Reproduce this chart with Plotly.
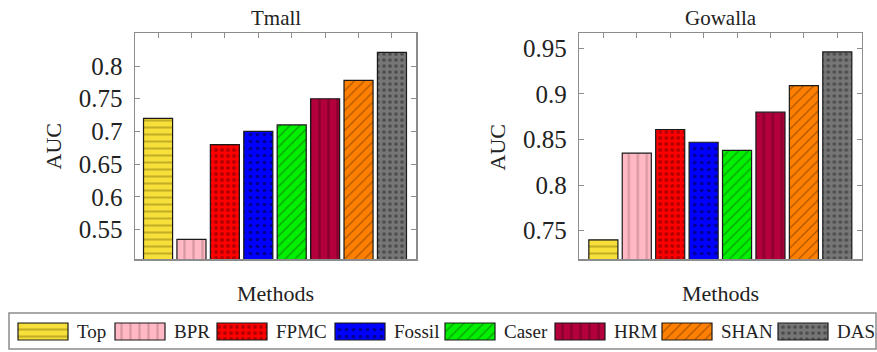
import plotly.graph_objects as go

# ---------------- data ----------------
methods = ["Top", "BPR", "FPMC", "Fossil", "Caser", "HRM", "SHAN", "DAS"]
tmall_auc = [0.720, 0.535, 0.680, 0.700, 0.710, 0.750, 0.778, 0.821]
gowalla_auc = [0.740, 0.835, 0.861, 0.847, 0.838, 0.880, 0.909, 0.946]
tmall_ticks = [0.55, 0.6, 0.65, 0.7, 0.75, 0.8]
tmall_ticklabels = ["0.55", "0.6", "0.65", "0.7", "0.75", "0.8"]
gowalla_ticks = [0.75, 0.8, 0.85, 0.9, 0.95]
gowalla_ticklabels = ["0.75", "0.8", "0.85", "0.9", "0.95"]

# ---------------- styles ----------------
bg_colors = ["#f7e03a", "#ffb8c4", "#ff0000", "#0000ff", "#00f000", "#b3003c", "#ff8000", "#767676"]
fg_colors = ["#8f7c10", "#b07880", "#6a0000", "#000028", "#1a4a1a", "#66001f", "#5a2c00", "#262626"]
shapes_ = ["-", "|", ".", ".", "/", "|", "/", "."]
psizes = [7, 9, 6, 7, 7, 9, 7, 6]
psolid = [0.3, 0.25, 0.35, 0.22, 0.18, 0.3, 0.18, 0.3]

FONT = "Liberation Serif, Times New Roman, serif"
W, H = 877, 352

def pattern(i):
    return dict(shape=shapes_[i], fgcolor=fg_colors[i], bgcolor=bg_colors[i],
                size=psizes[i], solidity=psolid[i], fillmode="overlay")

fig = go.Figure()
xs = list(range(len(methods)))
for i, m in enumerate(methods):
    fig.add_trace(go.Bar(x=[xs[i]], y=[tmall_auc[i]], width=0.87, name=m,
                         marker=dict(color=bg_colors[i], pattern=pattern(i),
                                     line=dict(color="#1a1a1a", width=1.2)),
                         xaxis="x", yaxis="y", showlegend=False))
    fig.add_trace(go.Bar(x=[xs[i]], y=[gowalla_auc[i]], width=0.87, name=m,
                         marker=dict(color=bg_colors[i], pattern=pattern(i),
                                     line=dict(color="#1a1a1a", width=1.2)),
                         xaxis="x2", yaxis="y2", showlegend=False))

# custom legend (swatches drawn as bars on a pixel-scaled helper axis)
legend_left = [18, 115, 217, 335, 445, 555, 662, 778]
sw_w, sw_top, sw_h = 50, 323, 17
for i, m in enumerate(methods):
    fig.add_trace(go.Bar(x=[legend_left[i] + sw_w / 2], y=[sw_h], base=[sw_top], width=sw_w,
                         marker=dict(color=bg_colors[i], pattern=pattern(i),
                                     line=dict(color="#1a1a1a", width=1.2)),
                         xaxis="x3", yaxis="y3", showlegend=False, hoverinfo="skip"))

frame = "#8c8c8c"
txt = "#222222"
common_x = dict(showgrid=False, zeroline=False, showline=True, linecolor=frame, linewidth=1.5,
                mirror=True, side="top", ticks="inside", ticklen=5, tickcolor=frame,
                tickvals=xs, showticklabels=False, fixedrange=True)
common_y = dict(showgrid=False, zeroline=False, showline=True, linecolor=frame, linewidth=1.5,
                mirror="ticks", ticks="inside", ticklen=5, tickcolor=frame,
                tickfont=dict(family=FONT, size=25, color=txt), ticklabelstandoff=6)

fig.update_layout(
    width=W, height=H, margin=dict(l=0, r=0, t=0, b=0),
    paper_bgcolor="white", plot_bgcolor="rgba(0,0,0,0)",
    barmode="overlay", bargap=0,
    font=dict(family=FONT),
    xaxis=dict(domain=[135 / W, 416 / W], range=[-0.69, 7.72], anchor="y", **common_x),
    yaxis=dict(domain=[1 - 259 / H, 1 - 33 / H], range=[0.505, 0.8505], anchor="x",
               tickvals=tmall_ticks, ticktext=tmall_ticklabels, **common_y),
    xaxis2=dict(domain=[579.3 / W, 861.7 / W], range=[-0.72, 7.73], anchor="y2", **common_x),
    yaxis2=dict(domain=[1 - 259 / H, 1 - 33 / H], range=[0.719, 0.9668], anchor="x2",
                tickvals=gowalla_ticks, ticktext=gowalla_ticklabels, **common_y),
    xaxis3=dict(domain=[0, 1], range=[0, W], visible=False, fixedrange=True, anchor="y3"),
    yaxis3=dict(domain=[0, 40 / H], range=[H, H - 40], visible=False, fixedrange=True, anchor="x3"),
    showlegend=False,
)

ann = []
def A(text, x, y, size, **kw):
    ann.append(dict(text=text, x=x, y=y, xref="paper", yref="paper", showarrow=False,
                    font=dict(family=FONT, size=size, color=txt), **kw))

A("Tmall", 275.5 / W, 1 - 18 / H, 21, xanchor="center", yanchor="middle")
A("Gowalla", 720.5 / W, 1 - 18 / H, 21, xanchor="center", yanchor="middle")
A("Methods", 275.5 / W, 1 - 293 / H, 22, xanchor="center", yanchor="middle")
A("Methods", 720.5 / W, 1 - 293 / H, 22, xanchor="center", yanchor="middle")
A("AUC", 53 / W, 1 - 146.5 / H, 22, xanchor="center", yanchor="middle", textangle=-90)
A("AUC", 497 / W, 1 - 147.5 / H, 22, xanchor="center", yanchor="middle", textangle=-90)

for i, m in enumerate(methods):
    ann.append(dict(text=m, x=legend_left[i] + sw_w + 7, y=sw_top + sw_h / 2,
                    xref="x3", yref="y3", showarrow=False, xanchor="left", yanchor="middle",
                    font=dict(family=FONT, size=19, color=txt)))

fig.update_layout(annotations=ann,
                  shapes=[dict(type="rect", xref="x3", yref="y3", x0=9, x1=876, y0=313, y1=349,
                               line=dict(color=frame, width=1.5), fillcolor="rgba(0,0,0,0)",
                               layer="below")])

fig.write_html("out.html", config={"displayModeBar": False, "staticPlot": True},
               post_script="document.body.style.margin='0px';document.body.style.overflow='hidden';")
